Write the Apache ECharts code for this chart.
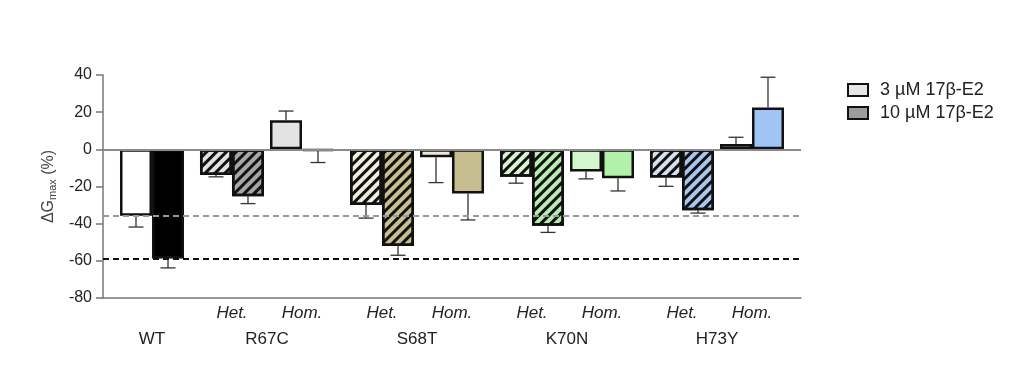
<!DOCTYPE html>
<html><head><meta charset="utf-8">
<script src="https://cdn.jsdelivr.net/npm/echarts@6/dist/echarts.min.js"></script>
<style>html,body{margin:0;padding:0;background:#fff}#c{width:1024px;height:368px}</style>
</head><body><div id="c"></div>
<script>
// ---------------- data ----------------
const genotypes = ['WT', 'R67C', 'S68T', 'K70N', 'H73Y'];
const zygosity = ['Het.', 'Hom.'];
const legendNames = ['3 µM 17β-E2', '10 µM 17β-E2'];
const yMin = -80, yMax = 40, yStep = 20;
// heterozygous (WT has none)
const het3 = [null, -13.8, -30.0, -14.7, -15.2];
const het3Err = [null, 1.0, 7.0, 3.5, 4.7];
const het10 = [null, -25.2, -52.0, -41.1, -32.8];
const het10Err = [null, 4.0, 5.0, 3.6, 1.5];
// homozygous (WT in these slots)
const hom3 = [-35.8, 15.6, -4.3, -11.9, 2.9];
const hom3Err = [6.0, 5.0, 13.6, 4.0, 3.6];
const hom10 = [-58.8, -0.8, -23.7, -15.6, 22.5];
const hom10Err = [5.0, 6.3, 14.3, 6.8, 16.3];

// ---------------- styles ----------------
const het3Colors = [null, '#e2e2e2', '#f0eedc', '#d9f2d2', '#d6e0ee'];
const het10Colors = [null, '#a6a6a6', '#c8bf8e', '#b8ecb0', '#a9c6f0'];
const hom3Colors = ['#ffffff', '#e3e3e3', '#efe9d2', '#d4f6cc', '#dfe6f2'];
const hom10Colors = ['#000000', '#111111', '#c6bd8e', '#b2f1aa', '#a0c4f5'];
const legendColors = ['#e6e6e6', '#9c9c9c'];

const FONT = "'Liberation Sans', Arial, sans-serif";
const GRID_LEFT = 103, GRID_RIGHT_X = 801, GRID_TOP = 75, GRID_BOTTOM_Y = 298;
const GROUP_PX = 150, BAR_W = 32, MID_GAP = 6, CAP = 15;
const xMin = -0.0933;
const xMax = xMin + (GRID_RIGHT_X - GRID_LEFT) / GROUP_PX;
const slotOffset = {
  het3: -(MID_GAP / 2 + BAR_W * 1.5), het10: -(MID_GAP / 2 + BAR_W * 0.5),
  hom3: (MID_GAP / 2 + BAR_W * 0.5), hom10: (MID_GAP / 2 + BAR_W * 1.5)
};
const HATCH = { symbol: 'rect', symbolSize: 1, color: '#111', dashArrayX: [1, 0], dashArrayY: [3, 3.5], rotation: -Math.PI / 4 };

function barSeries(name, vals, colors, hatched, legendColor) {
  return {
    type: 'bar', name: name, barWidth: BAR_W, barGap: '0%', z: 3,
    itemStyle: { color: legendColor, borderColor: '#111', borderWidth: 2.5 },
    data: vals.map((v, i) => v == null ? [i, '-'] : {
      value: [i, v],
      itemStyle: Object.assign({ color: colors[i] }, hatched ? { decal: HATCH } : {})
    })
  };
}

const errData = [];
[[het3, het3Err, 'het3'], [het10, het10Err, 'het10'], [hom3, hom3Err, 'hom3'], [hom10, hom10Err, 'hom10']]
  .forEach(([vals, errs, key]) => vals.forEach((v, i) => { if (v != null) errData.push([i, v, errs[i], slotOffset[key]]); }));

// label positions (in group units)
const genoPos = genotypes.map((g, i) => i === 0 ? i + (slotOffset.hom3 + slotOffset.hom10) / 2 / GROUP_PX : i);
const zygPos = [], zygTxt = [];
genotypes.forEach((g, i) => {
  if (i === 0) return;
  zygPos.push(i + (slotOffset.het3 + slotOffset.het10) / 2 / GROUP_PX); zygTxt.push(zygosity[0]);
  zygPos.push(i + (slotOffset.hom3 + slotOffset.hom10) / 2 / GROUP_PX); zygTxt.push(zygosity[1]);
});
function lookup(pos, txt) { return v => { const k = pos.findIndex(p => Math.abs(p - v) < 1e-3); return k < 0 ? '' : txt[k]; }; }

const chart = echarts.init(document.getElementById('c'), null, { renderer: 'canvas' });
chart.setOption({
  animation: false,
  textStyle: { fontFamily: FONT },
  grid: { left: GRID_LEFT, right: 1024 - GRID_RIGHT_X, top: GRID_TOP, bottom: 368 - GRID_BOTTOM_Y, containLabel: false },
  legend: {
    orient: 'vertical', left: 847, top: 81, padding: 0, itemWidth: 20, itemHeight: 12, itemGap: 5,
    textStyle: { fontSize: 18, color: '#222', fontFamily: FONT, padding: [0, 0, 0, 7] },
    data: legendNames.map((n, k) => ({ name: n, icon: 'rect', itemStyle: { color: legendColors[k], borderColor: '#111', borderWidth: 2 } }))
  },
  xAxis: [{
    type: 'value', min: xMin, max: xMax, position: 'bottom',
    axisLine: { show: true, onZero: false, lineStyle: { color: '#777', width: 1.5 } },
    axisTick: { show: false }, splitLine: { show: false },
    axisLabel: { customValues: genoPos, formatter: lookup(genoPos, genotypes), margin: 33, fontSize: 17, color: '#222', fontFamily: FONT }
  }, {
    type: 'value', min: xMin, max: xMax, position: 'bottom',
    axisLine: { show: false }, axisTick: { show: false }, splitLine: { show: false },
    axisLabel: { customValues: zygPos, formatter: lookup(zygPos, zygTxt), margin: 7, fontSize: 17, fontStyle: 'italic', color: '#222', fontFamily: FONT }
  }],
  yAxis: {
    type: 'value', min: yMin, max: yMax, interval: yStep,
    axisLine: { show: true, onZero: false, lineStyle: { color: '#777', width: 1.5 } },
    axisTick: { show: true, length: 7, lineStyle: { color: '#777', width: 1.5 } },
    splitLine: { show: false },
    axisLabel: { fontSize: 16, color: '#222', margin: 11, fontFamily: FONT },
    name: '{d|ΔG}{s|max}{d| (%)}', nameLocation: 'middle', nameGap: 38, nameRotate: 90,
    nameTextStyle: { color: '#444', rich: { d: { fontSize: 16, color: '#444', fontFamily: FONT }, s: { fontSize: 11, color: '#444', padding: [7, 0, 0, 0], fontFamily: FONT } } }
  },
  series: [
    barSeries(legendNames[0], het3, het3Colors, true, legendColors[0]),
    barSeries(legendNames[1], het10, het10Colors, true, legendColors[1]),
    {
      type: 'bar', name: 'spacer', barWidth: MID_GAP, barGap: '0%', z: 1, silent: true,
      data: genotypes.map((g, i) => [i, '-']),
      markLine: {
        symbol: 'none', silent: true, label: { show: false }, animation: false,
        data: [
          { yAxis: 0, lineStyle: { color: '#8a8a8a', width: 2, type: 'solid' } },
          { yAxis: hom3[0], lineStyle: { color: '#9a9a9a', width: 2, type: [6, 4] } },
          { yAxis: hom10[0], lineStyle: { color: '#111', width: 2, type: [6, 4] } }
        ]
      }
    },
    barSeries(legendNames[0], hom3, hom3Colors, false, legendColors[0]),
    barSeries(legendNames[1], hom10, hom10Colors, false, legendColors[1]),
    {
      type: 'custom', name: 'err', z: 2, silent: true, data: errData,
      renderItem: function (params, api) {
        const x = api.value(0), v = api.value(1), e = api.value(2), off = api.value(3);
        const p0 = api.coord([x, v]);
        const p1 = api.coord([x, v >= 0 ? v + e : v - e]);
        const cx = p0[0] + off;
        const st = { stroke: '#333', lineWidth: 1.3 };
        return { type: 'group', children: [
          { type: 'line', shape: { x1: cx, y1: p0[1], x2: cx, y2: p1[1] }, style: st },
          { type: 'line', shape: { x1: cx - CAP / 2, y1: p1[1], x2: cx + CAP / 2, y2: p1[1] }, style: st }
        ] };
      }
    }
  ]
});
</script></body></html>
